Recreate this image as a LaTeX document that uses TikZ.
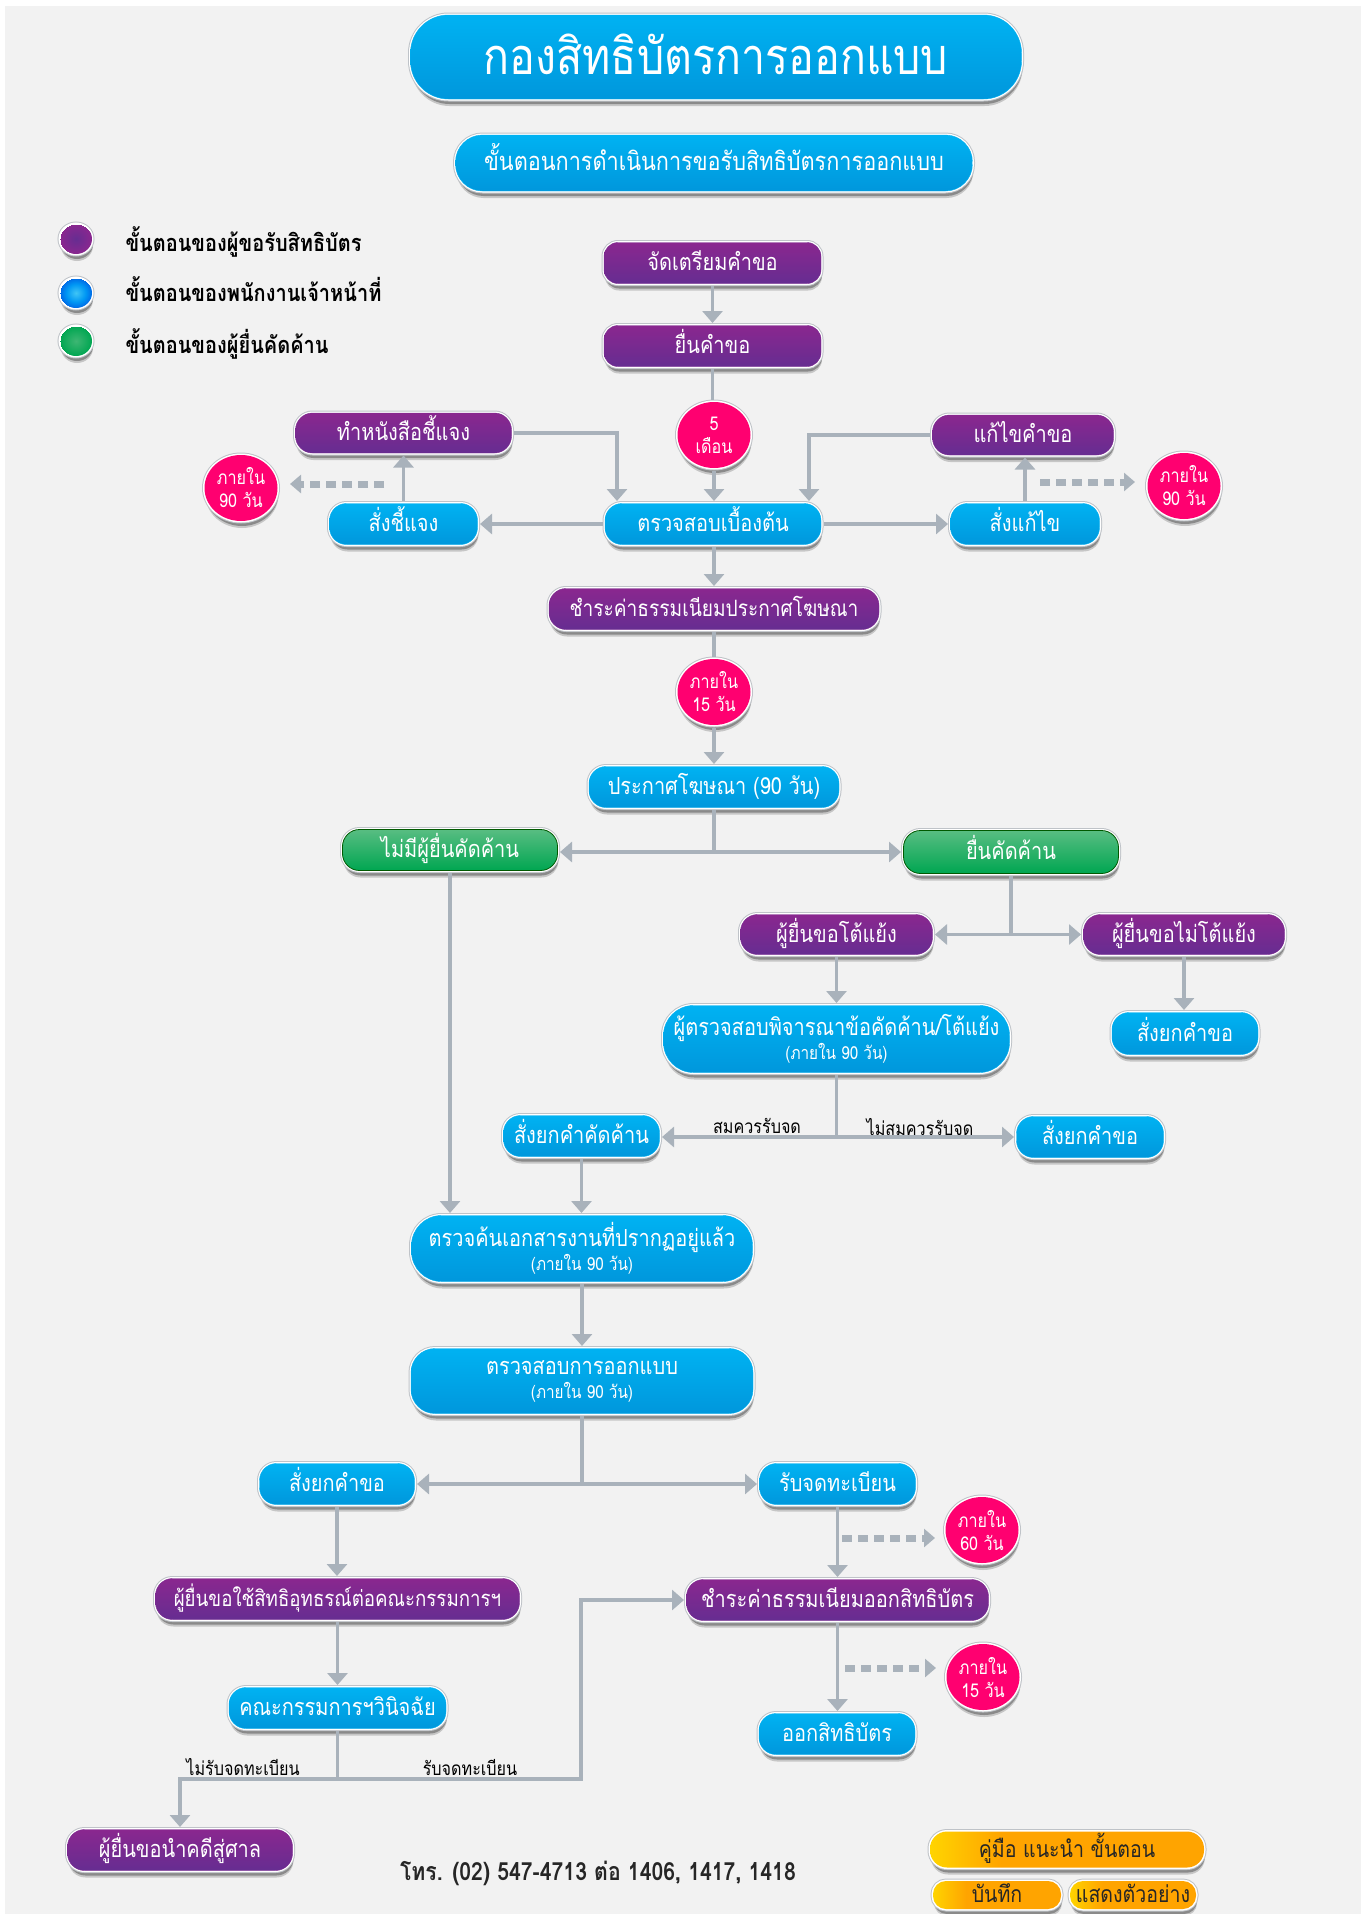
\documentclass[tikz,border=0pt]{standalone}
\usepackage{fontspec}
\newfontfamily\thaifont[Script=Thai,FakeStretch=0.85]{Loma}
\usetikzlibrary{shapes.geometric}
\usetikzlibrary{arrows.meta, positioning, shadows}
\definecolor{pagegray}{HTML}{F2F2F2}
\definecolor{bezelgray}{HTML}{BFC3C8}
\definecolor{linegray}{HTML}{A9B2BB}
\definecolor{bluetop}{HTML}{00B2F2}
\definecolor{bluebot}{HTML}{0097DC}
\definecolor{purpletop}{HTML}{8A278F}
\definecolor{purplebot}{HTML}{662D91}
\definecolor{greentop}{HTML}{58BD82}
\definecolor{greenbot}{HTML}{00A651}
\definecolor{pinkfill}{HTML}{FF0070}
\definecolor{orangelo}{HTML}{FFA400}
\definecolor{yellowhi}{HTML}{FFD400}
\pgfdeclarehorizontalshading{buttonshade}{100bp}{color(0bp)=(yellowhi); color(25bp)=(yellowhi); color(38bp)=(orangelo); color(100bp)=(orangelo)}
\pgfdeclareradialshading{dotpurple}{\pgfpoint{0bp}{0bp}}{color(0bp)=(purplebot); color(25bp)=(purpletop)}
\pgfdeclareradialshading{dotblue}{\pgfpoint{0bp}{0bp}}{color(0bp)=(bluetop!75!white); color(15bp)=(bluetop!85!blue); color(25bp)=(bluebot!70!blue)}
\pgfdeclareradialshading{dotgreen}{\pgfpoint{0bp}{0bp}}{color(0bp)=(greentop!70!greenbot); color(25bp)=(greenbot)}
\begin{document}
\begin{tikzpicture}[
    x=1pt, y=-1pt,
    every node/.style={font=\thaifont\fontsize{23.5}{27}\selectfont},
    bezel/.style={
        drop shadow={shadow xshift=1pt,shadow yshift=-7pt,opacity=.18,fill=black},
        drop shadow={shadow xshift=1pt,shadow yshift=-5pt,opacity=.3,fill=black},
        preaction={draw=bezelgray,line width=5pt},
        preaction={draw=white,line width=3pt}},
    box size/.style 2 args={minimum width={#1pt-5pt}, minimum height={#2pt-5pt}},
    stepbox/.style={rectangle, rounded corners=17pt, text=white, align=center,
        inner sep=0pt, outer sep=2.5pt, text height=19.5pt, text depth=4.5pt, bezel},
    twolines/.style={text height=, text depth=},
    bluebox/.style={stepbox, draw=bluetop, top color=bluetop, bottom color=bluebot},
    purplebox/.style={stepbox, draw=purpletop!60!purplebot, top color=purpletop, bottom color=purplebot},
    greenbox/.style={stepbox, draw=black!65!green, line width=.8pt, top color=greentop, bottom color=greenbot},
    pinkdot/.style={ellipse, fill=pinkfill, text=white, align=center, inner sep=0pt,
        outer sep=2.5pt, minimum width=73pt, minimum height=66pt, bezel,
        font=\thaifont\fontsize{19}{23}\selectfont},
    keydot/.style={ellipse, inner sep=0pt, outer sep=2pt, minimum width=32pt, minimum height=30pt, bezel},
    keytext/.style={anchor=west, font=\thaifont\bfseries\fontsize{23.5}{27}\selectfont},
    buttonbox/.style={stepbox, shading=buttonshade, text=black!85,
        font=\thaifont\fontsize{23}{27}\selectfont},
    sublabel/.style={font=\thaifont\fontsize{19}{22}\selectfont, text=black},
    link/.style={draw=linegray, line width=3.5pt, -{Triangle[length=12pt,width=20pt]}},
    plainlink/.style={draw=linegray, line width=3.5pt},
    dashlink/.style={draw=linegray, line width=7pt, dash pattern=on 10pt off 6pt,
        -{Triangle[length=11pt,width=18pt]}}
    ]
    \useasboundingbox (0,0) rectangle (1364,1914);
    \fill[pagegray] (5,6) rectangle (1361,1914);

    % heading
    \node[bluebox, box size={616}{89}, rounded corners=38pt, text height=44pt, text depth=10pt, font=\thaifont\fontsize{50.5}{54}\selectfont] (title) at (716,57) {กองสิทธิบัตรการออกแบบ};
    \node[bluebox, box size={522}{61}, rounded corners=27pt, text height=20pt, text depth=6pt, font=\thaifont\fontsize{25.5}{29}\selectfont] (subtitle) at (714,163) {ขั้นตอนการดำเนินการขอรับสิทธิบัตรการออกแบบ};

    % legend
    \node[keydot, shading=dotpurple] (keya) at (76,239) {};
    \node[keydot, shading=dotblue] (keyb) at (76,293) {};
    \node[keydot, shading=dotgreen] (keyc) at (76,341) {};
    \node[keytext] (keyatext) at (122,242) {ขั้นตอนของผู้ขอรับสิทธิบัตร};
    \node[keytext] (keybtext) at (122,289) {ขั้นตอนของพนักงานเจ้าหน้าที่};
    \node[keytext] (keyctext) at (122,344) {ขั้นตอนของผู้ยื่นคัดค้าน};

    % filing
    \node[purplebox, box size={222}{46}, rounded corners=14pt] (prep) at (712.5,263) {จัดเตรียมคำขอ};
    \node[purplebox, box size={222}{46}, rounded corners=14pt] (submit) at (712.5,346) {ยื่นคำขอ};
    \node[pinkdot] (five) at (714,435) {5\\เดือน};
    \node[purplebox, box size={221}{45}] (explain) at (403.5,433) {ทำหนังสือชี้แจง};
    \node[purplebox, box size={186}{45}] (fix) at (1023,435) {แก้ไขคำขอ};
    \node[pinkdot] (waita) at (241,488) {ภายใน\\90 วัน};
    \node[pinkdot] (waitb) at (1184,486) {ภายใน\\90 วัน};
    \node[bluebox, box size={153}{46}] (orderexplain) at (403.5,524) {สั่งชี้แจง};
    \node[bluebox, box size={221}{46}] (check) at (713,524) {ตรวจสอบเบื้องต้น};
    \node[bluebox, box size={154}{46}] (orderfix) at (1025,524) {สั่งแก้ไข};
    \node[purplebox, box size={335}{46}, font=\thaifont\fontsize{22.5}{27}\selectfont] (adfee) at (714,609) {ชำระค่าธรรมเนียมประกาศโฆษณา};
    \node[pinkdot] (waitc) at (714,692) {ภายใน\\15 วัน};
    \node[bluebox, box size={255}{46}] (publish) at (714,787) {ประกาศโฆษณา (90 วัน)};

    % opposition
    \node[greenbox, box size={220}{46}] (noobject) at (450,850) {ไม่มีผู้ยื่นคัดค้าน};
    \node[greenbox, box size={220}{48}] (object) at (1011,852) {ยื่นคัดค้าน};
    \node[purplebox, box size={197}{45}] (argue) at (836.5,934.5) {ผู้ยื่นขอโต้แย้ง};
    \node[purplebox, box size={206}{45}] (noargue) at (1184,934.5) {ผู้ยื่นขอไม่โต้แย้ง};
    \node[bluebox, twolines, box size={351}{72}, rounded corners=30pt] (review) at (836.5,1039) {ผู้ตรวจสอบพิจารณาข้อคัดค้าน/โต้แย้ง\\[-3pt]{\fontsize{18}{20}\selectfont (ภายใน 90 วัน)}};
    \node[bluebox, box size={151}{47}] (dropa) at (1185,1033.5) {สั่งยกคำขอ};
    \node[bluebox, box size={161}{46}] (dropobject) at (581.5,1136) {สั่งยกคำคัดค้าน};
    \node[bluebox, box size={152}{46}] (dropb) at (1090,1137) {สั่งยกคำขอ};
    \node[sublabel] (worthy) at (757,1126) {สมควรรับจด};
    \node[sublabel] (unworthy) at (920,1127) {ไม่สมควรรับจด};

    % examination
    \node[bluebox, twolines, box size={346}{71}, rounded corners=30pt] (search) at (582,1248.5) {ตรวจค้นเอกสารงานที่ปรากฏอยู่แล้ว\\[-3pt]{\fontsize{18}{20}\selectfont (ภายใน 90 วัน)}};
    \node[bluebox, twolines, box size={347}{70}, rounded corners=24pt] (design) at (582,1381) {ตรวจสอบการออกแบบ\\[-3pt]{\fontsize{18}{20}\selectfont (ภายใน 90 วัน)}};
    \node[bluebox, box size={160}{46}] (dropc) at (337,1484) {สั่งยกคำขอ};
    \node[bluebox, box size={161}{46}] (register) at (837.5,1484) {รับจดทะเบียน};
    \node[pinkdot] (waitd) at (982,1530) {ภายใน\\60 วัน};
    \node[purplebox, box size={369}{46}, font=\thaifont\fontsize{22}{27}\selectfont] (appeal) at (337.5,1599) {ผู้ยื่นขอใช้สิทธิอุทธรณ์ต่อคณะกรรมการฯ};
    \node[purplebox, box size={307}{46}] (grantfee) at (837.5,1600) {ชำระค่าธรรมเนียมออกสิทธิบัตร};
    \node[bluebox, box size={222}{46}] (board) at (337.5,1708) {คณะกรรมการฯวินิจฉัย};
    \node[pinkdot] (waite) at (983,1677) {ภายใน\\15 วัน};
    \node[bluebox, box size={161}{46}] (grant) at (837,1734) {ออกสิทธิบัตร};
    \node[sublabel] (refuse) at (243,1767) {ไม่รับจดทะเบียน};
    \node[sublabel] (accept) at (470,1767) {รับจดทะเบียน};
    \node[purplebox, box size={230}{46}] (court) at (180,1850) {ผู้ยื่นขอนำคดีสู่ศาล};

    % footer
    \node[font=\thaifont\bfseries\fontsize{25}{29}\selectfont, text=black!85] (phone) at (598,1873) {โทร. (02) 547-4713 ต่อ 1406, 1417, 1418};
    \node[buttonbox, box size={279}{41}] (guide) at (1067,1849.5) {คู่มือ แนะนำ ขั้นตอน};
    \node[buttonbox, box size={133}{33}, rounded corners=13pt] (save) at (997,1895) {บันทึก};
    \node[buttonbox, box size={131}{33}, rounded corners=13pt] (sample) at (1133,1895) {แสดงตัวอย่าง};

    % junctions and free ends
    \coordinate (forka) at (publish.south |- object.west);
    \coordinate (forkb) at (object.south |- argue.east);
    \coordinate (forkc) at (review.south |- dropb.west);
    \coordinate (forkd) at (design.south |- register.west);
    \coordinate (forke) at (board.south |- 0,1779);
    \coordinate (turna) at (581,1779);
    \coordinate (dasha) at (384,484);
    \coordinate (dashb) at (1040,482);
    \coordinate (dashc) at (842,1538);
    \coordinate (dashd) at (845,1668);

    \draw[link] (prep.south) -- (submit.north);
    \draw[plainlink] (submit.south) -- (submit.south |- five.north);
    \draw[link] (five.south) -- (five.south |- check.north);
    \draw[link] (explain.east) -| ([xshift=-96pt]check.north);
    \draw[link] (fix.west) -| ([xshift=96pt]check.north);
    \draw[link] (orderexplain.north) -- (explain.south);
    \draw[link] (orderfix.north) -- (orderfix.north |- fix.south);
    \draw[link] (check.west) -- (orderexplain.east);
    \draw[link] (check.east) -- (orderfix.west);
    \draw[dashlink, shorten >=10pt] (dasha) -- (dasha -| waita.east);
    \draw[dashlink, shorten >=10pt] (dashb) -- (dashb -| waitb.west);
    \draw[link] (check.south -| adfee.north) -- (adfee.north);
    \draw[plainlink] (adfee.south) -- (waitc.north);
    \draw[link] (waitc.south) -- (publish.north);
    \draw[plainlink] (publish.south) -- (forka);
    \draw[link] (forka) -- (forka -| noobject.east);
    \draw[link] (forka) -- (object.west);
    \draw[plainlink] (object.south) -- (forkb);
    \draw[link] (forkb) -- (argue.east);
    \draw[link] (forkb) -- (noargue.west);
    \draw[link] (argue.south) -- (review.north);
    \draw[link] (noargue.south) -- (noargue.south |- dropa.north);
    \draw[plainlink] (review.south) -- (forkc);
    \draw[link] (forkc) -- (forkc -| dropobject.east);
    \draw[link] (forkc) -- (dropb.west);
    \draw[link] (noobject.south) -- (noobject.south |- search.north);
    \draw[link] (dropobject.south) -- (dropobject.south |- search.north);
    \draw[link] (search.south) -- (design.north);
    \draw[plainlink] (design.south) -- (forkd);
    \draw[link] (forkd) -- (dropc.east);
    \draw[link] (forkd) -- (register.west);
    \draw[link] (dropc.south) -- (dropc.south |- appeal.north);
    \draw[link] (appeal.south) -- (board.north);
    \draw[link] (register.south) -- (grantfee.north);
    \draw[link] (grantfee.south) -- (grantfee.south |- grant.north);
    \draw[dashlink, shorten >=8pt] (dashc) -- (dashc -| waitd.west);
    \draw[dashlink, shorten >=8pt] (dashd) -- (dashd -| waite.west);
    \draw[plainlink] (board.south) -- (forke);
    \draw[link] (forke) -| (court.north);
    \draw[link] (forke) -- (turna) |- (grantfee.west);

\end{tikzpicture}
\end{document}
